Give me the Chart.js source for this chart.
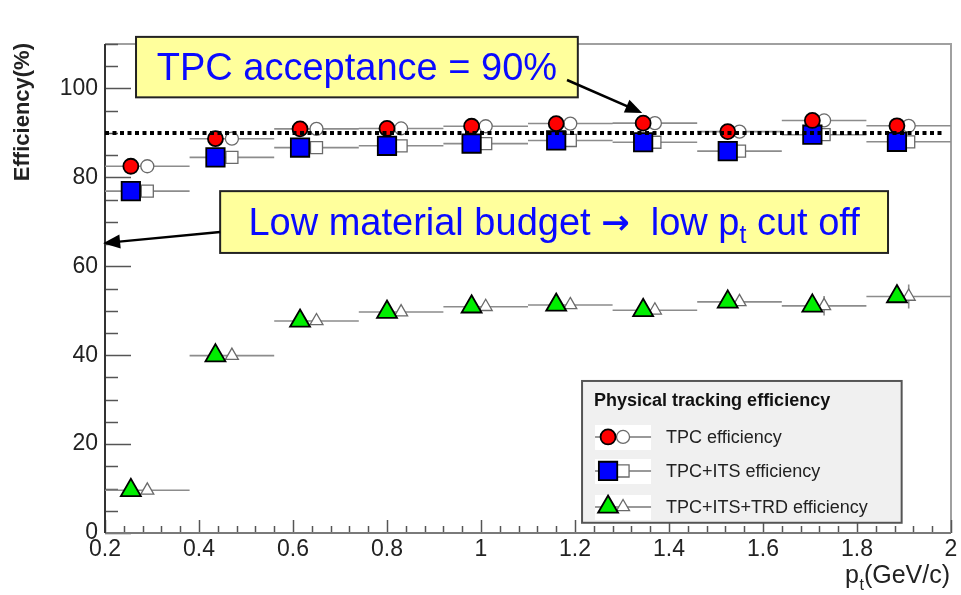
<!DOCTYPE html>
<html>
<head>
<meta charset="utf-8">
<title>Physical tracking efficiency</title>
<script src="https://cdn.jsdelivr.net/npm/chart.js@4/dist/chart.umd.min.js"></script>
<style>
  html, body { margin: 0; padding: 0; background: #fff; }
  #wrap { width: 961px; height: 595px; }
</style>
</head>
<body>
<div id="wrap"><canvas id="eff" width="961" height="595"></canvas></div>
<script>
/* pt bins (GeV/c) and efficiencies (%) */
const ptEdges   = [0.2, 0.38, 0.56, 0.74, 0.92, 1.10, 1.28, 1.46, 1.64, 1.82, 2.0];
const ptCenters = [0.29, 0.47, 0.65, 0.83, 1.01, 1.19, 1.37, 1.55, 1.73, 1.91];
const ptShifted = [0.255, 0.435, 0.615, 0.80, 0.98, 1.16, 1.345, 1.525, 1.705, 1.885];

const tpcEff = [82.5, 88.7, 90.9, 91.0, 91.5, 92.1, 92.2, 90.3, 92.8, 91.6];
const itsEff = [76.9, 84.5, 86.7, 87.1, 87.6, 88.3, 87.9, 85.9, 89.6, 88.0];
const trdEff = [9.6, 39.9, 47.7, 49.7, 50.9, 51.3, 50.1, 52.0, 51.1, 53.2];
const trdErr = [0, 0, 0, 0, 0, 0, 0, 0.8, 2.2, 2.7];

const acceptance = 90;
const xTickValues = [0.2, 0.4, 0.6, 0.8, 1.0, 1.2, 1.4, 1.6, 1.8, 2.0];
const yTickValues = [0, 20, 40, 60, 80, 100];

const legendLabels = ['TPC efficiency', 'TPC+ITS efficiency', 'TPC+ITS+TRD efficiency'];
const FONT = '"Liberation Sans", Arial, Helvetica, sans-serif';

// horizontal bin bars (and optional vertical errors) as gapped line segments
function binBars(vals) {
  const pts = [];
  vals.forEach((v, i) => {
    pts.push({ x: ptEdges[i], y: v }, { x: ptEdges[i + 1], y: v }, { x: ptEdges[i + 1], y: null });
  });
  return pts;
}
function vertBars(vals, errs) {
  const pts = [];
  vals.forEach((v, i) => {
    if (!errs[i]) return;
    pts.push({ x: ptCenters[i], y: v - errs[i] }, { x: ptCenters[i], y: v + errs[i] }, { x: ptCenters[i], y: null });
  });
  return pts;
}
const at = (xs, ys) => ys.map((v, i) => ({ x: xs[i], y: v }));

const styles = [
  { style: 'circle',   color: '#ff0000', r: 7.5,  ro: 6.5 },
  { style: 'rect',     color: '#0000ff', r: 13,   ro: 8.5 },
  { style: 'triangle', color: '#00ee00', r: 11.5, ro: 7.5 }
];
const series = [tpcEff, itsEff, trdEff];

const datasets = [];
series.forEach((vals, k) => {
  datasets.push({
    data: binBars(vals), showLine: true, spanGaps: false, pointRadius: 0,
    borderColor: '#8c8c8c', borderWidth: 1.6, order: 4
  });
});
datasets.push({
  data: vertBars(trdEff, trdErr), showLine: true, spanGaps: false, pointRadius: 0,
  borderColor: '#8c8c8c', borderWidth: 1.6, order: 4
});
series.forEach((vals, k) => {
  datasets.push({
    data: at(ptCenters, vals), showLine: false,
    pointStyle: styles[k].style, pointRadius: styles[k].ro,
    backgroundColor: '#ffffff', borderColor: '#6a6a6a', borderWidth: 1.3, order: 3
  });
});
series.forEach((vals, k) => {
  datasets.push({
    data: at(ptShifted, vals), showLine: false,
    pointStyle: styles[k].style, pointRadius: styles[k].r,
    backgroundColor: styles[k].color, borderColor: '#000', borderWidth: 1.8, order: 2
  });
});
datasets.push({
  data: [{ x: 0.2, y: acceptance }, { x: 1.98, y: acceptance }], showLine: true, pointRadius: 0,
  borderColor: '#000', borderWidth: 4, borderDash: [4, 3.5], order: 1
});

function arrow(ctx, x0, y0, x1, y1) {
  const ang = Math.atan2(y1 - y0, x1 - x0), len = 17, half = 7;
  ctx.strokeStyle = '#000'; ctx.fillStyle = '#000'; ctx.lineWidth = 2.5;
  ctx.beginPath(); ctx.moveTo(x0, y0);
  ctx.lineTo(x1 - Math.cos(ang) * len * 0.8, y1 - Math.sin(ang) * len * 0.8); ctx.stroke();
  ctx.beginPath();
  ctx.moveTo(x1, y1);
  ctx.lineTo(x1 - Math.cos(ang) * len + Math.sin(ang) * half, y1 - Math.sin(ang) * len - Math.cos(ang) * half);
  ctx.lineTo(x1 - Math.cos(ang) * len - Math.sin(ang) * half, y1 - Math.sin(ang) * len + Math.cos(ang) * half);
  ctx.closePath(); ctx.fill();
}
function noteBox(ctx, x0, y0, x1, y1) {
  ctx.fillStyle = '#ffff9c';
  ctx.fillRect(x0, y0, x1 - x0, y1 - y0);
  ctx.strokeStyle = '#222'; ctx.lineWidth = 2;
  ctx.strokeRect(x0, y0, x1 - x0, y1 - y0);
}

const decor = {
  id: 'decor',
  beforeDatasetsDraw(chart) {
    const { ctx, chartArea: a, scales: { x, y } } = chart;
    ctx.save();
    ctx.strokeStyle = '#a0a0a0'; ctx.lineWidth = 2;
    ctx.beginPath(); ctx.moveTo(a.left, a.top); ctx.lineTo(a.right, a.top); ctx.lineTo(a.right, a.bottom); ctx.stroke();

    // ticks drawn inside the frame, ROOT style
    ctx.strokeStyle = '#555'; ctx.lineWidth = 1.5;
    for (let v = 0; v <= 110; v += 5) {
      const py = Math.round(y.getPixelForValue(v)) + 0.5;
      const len = v % 20 === 0 ? 26 : 13;
      ctx.beginPath(); ctx.moveTo(a.left, py); ctx.lineTo(a.left + len, py); ctx.stroke();
    }
    for (let k = 0; k <= 45; k++) {
      const px = Math.round(x.getPixelForValue(0.2 + k * 0.04)) + 0.5;
      const len = k % 5 === 0 ? 13 : 7;
      ctx.beginPath(); ctx.moveTo(px, a.bottom); ctx.lineTo(px, a.bottom - len); ctx.stroke();
    }
    ctx.strokeStyle = '#7a7a7a'; ctx.lineWidth = 2;
    ctx.beginPath(); ctx.moveTo(a.left, a.bottom); ctx.lineTo(a.right, a.bottom); ctx.stroke();
    ctx.strokeStyle = '#333';
    ctx.beginPath(); ctx.moveTo(a.left, a.top); ctx.lineTo(a.left, a.bottom); ctx.stroke();
    ctx.restore();
  },
  afterDraw(chart) {
    const { ctx, scales: { x, y } } = chart;
    const X = v => x.getPixelForValue(v), Y = v => y.getPixelForValue(v);
    ctx.save();

    // axis titles
    ctx.fillStyle = '#222';
    ctx.save();
    ctx.translate(29, 43); ctx.rotate(-Math.PI / 2);
    ctx.font = 'bold 22px ' + FONT; ctx.textAlign = 'right'; ctx.textBaseline = 'alphabetic';
    ctx.fillText('Efficiency(%)', 0, 0);
    ctx.restore();
    ctx.font = '25px ' + FONT; ctx.textAlign = 'right'; ctx.textBaseline = 'alphabetic';
    const tail = '(GeV/c)';
    const tailW = ctx.measureText(tail).width;
    ctx.fillText(tail, 950, 583);
    ctx.font = '16px ' + FONT; ctx.fillText('t', 950 - tailW, 590);
    ctx.font = '25px ' + FONT; ctx.fillText('p', 950 - tailW - 5, 583);

    // annotation 1
    noteBox(ctx, X(0.266), Y(111.6), X(1.206), Y(98.0));
    ctx.fillStyle = '#0a0aff'; ctx.font = '38px ' + FONT;
    ctx.textAlign = 'center'; ctx.textBaseline = 'alphabetic';
    ctx.fillText('TPC acceptance = 90%', (X(0.266) + X(1.206)) / 2, (Y(111.6) + Y(98.0)) / 2 + 13);
    arrow(ctx, X(1.183), Y(101.9), X(1.343), Y(94.5));

    // annotation 2, text pieces: [string, font, baseline shift]
    const bx0 = X(0.445), bx1 = X(1.866), by0 = Y(76.9), by1 = Y(63.0);
    noteBox(ctx, bx0, by0, bx1, by1);
    const pieces = [
      ['Low material budget ', '38px ' + FONT, 0],
      ['\u2192', 'bold 34px "DejaVu Sans", ' + FONT, -1],
      ['  low p', '38px ' + FONT, 0],
      ['t', '25px ' + FONT, 8],
      [' cut off', '38px ' + FONT, 0]
    ];
    let total = 0;
    pieces.forEach(p => { ctx.font = p[1]; p.push(ctx.measureText(p[0]).width); total += p[3]; });
    let tx = (bx0 + bx1) / 2 - total / 2;
    const base = (by0 + by1) / 2 + 13;
    ctx.fillStyle = '#0a0aff'; ctx.textAlign = 'left';
    pieces.forEach(p => { ctx.font = p[1]; ctx.fillText(p[0], tx, base + p[2]); tx += p[3]; });
    arrow(ctx, bx0, Y(67.7), X(0.196), Y(65.2));

    // legend
    const lx0 = X(1.215), lx1 = X(1.895), ly0 = Y(34.2), ly1 = Y(2.3);
    ctx.fillStyle = '#f0f0f0'; ctx.fillRect(lx0, ly0, lx1 - lx0, ly1 - ly0);
    ctx.strokeStyle = '#555'; ctx.lineWidth = 2; ctx.strokeRect(lx0, ly0, lx1 - lx0, ly1 - ly0);
    ctx.fillStyle = '#111'; ctx.font = 'bold 18px ' + FONT; ctx.textAlign = 'left'; ctx.textBaseline = 'alphabetic';
    ctx.fillText('Physical tracking efficiency', lx0 + 12, ly0 + 25);
    const rows = [56, 90, 126];
    legendLabels.forEach((lab, k) => {
      const cy = ly0 + rows[k];
      ctx.fillStyle = '#fff'; ctx.fillRect(lx0 + 13, cy - 12, 56, 25);
      ctx.strokeStyle = '#777'; ctx.lineWidth = 1.5;
      ctx.beginPath(); ctx.moveTo(lx0 + 13, cy); ctx.lineTo(lx0 + 69, cy); ctx.stroke();
      ctx.fillStyle = '#fff'; ctx.strokeStyle = '#6a6a6a'; ctx.lineWidth = 1.3;
      Chart.helpers.drawPoint(ctx, { pointStyle: styles[k].style, radius: styles[k].ro, rotation: 0, borderWidth: 1.3 }, lx0 + 41, cy);
      ctx.fillStyle = styles[k].color; ctx.strokeStyle = '#000'; ctx.lineWidth = 1.8;
      Chart.helpers.drawPoint(ctx, { pointStyle: styles[k].style, radius: styles[k].r, rotation: 0, borderWidth: 1.8 }, lx0 + 26, cy);
      ctx.fillStyle = '#222'; ctx.font = '18px ' + FONT; ctx.textBaseline = 'middle';
      ctx.fillText(lab, lx0 + 84, cy + 1);
      ctx.textBaseline = 'alphabetic';
    });
    ctx.restore();
  }
};

new Chart(document.getElementById('eff'), {
  type: 'scatter',
  data: { datasets },
  options: {
    responsive: false,
    animation: false,
    layout: { autoPadding: false, padding: { left: 0, right: 10, top: 44, bottom: 0 } },
    plugins: { legend: { display: false }, tooltip: { enabled: false } },
    scales: {
      x: {
        type: 'linear', min: 0.2, max: 2.0,
        afterBuildTicks: s => { s.ticks = xTickValues.map(v => ({ value: v })); },
        afterFit: s => { s.height = 62; },
        grid: { display: false, drawTicks: false },
        border: { display: false },
        ticks: { padding: 3, color: '#222', font: { family: FONT, size: 23 }, maxRotation: 0, autoSkip: false,
                 callback: v => String(+v.toFixed(1)) }
      },
      y: {
        type: 'linear', min: 0, max: 110,
        afterBuildTicks: s => { s.ticks = yTickValues.map(v => ({ value: v })); },
        afterFit: s => { s.width = 105; },
        grid: { display: false, drawTicks: false },
        border: { display: false },
        ticks: { padding: 7, color: '#222', font: { family: FONT, size: 23 } }
      }
    }
  },
  plugins: [decor]
});
</script>
</body>
</html>
